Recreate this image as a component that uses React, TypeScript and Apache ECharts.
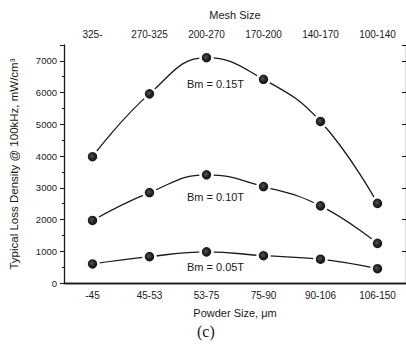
import React, { useEffect, useRef } from "react";
import * as echarts from "echarts";

const powderSizes = ["-45", "45-53", "53-75", "75-90", "90-106", "106-150"];
const meshSizes = ["325-", "270-325", "200-270", "170-200", "140-170", "100-140"];
const bm015 = [3980, 5960, 7100, 6420, 5090, 2510];
const bm010 = [1970, 2850, 3410, 3040, 2430, 1250];
const bm005 = [600, 830, 980, 860, 750, 450];
const seriesNames = ["Bm = 0.15T", "Bm = 0.10T", "Bm = 0.05T"];
const labelAnchors = [6280, 2720, 510];

const FONT = "Liberation Sans";

export default function App() {
  const ref = useRef<HTMLDivElement>(null);
  useEffect(() => {
    if (!ref.current) return;
    const chart = echarts.init(ref.current, null, { renderer: "svg" });
    const datasets = [bm015, bm010, bm005];
    const series = datasets.map((d, i) => ({
      type: "line",
      name: seriesNames[i],
      data: d,
      smooth: 0.45,
      showSymbol: true,
      symbol: "circle",
      symbolSize: 12,
      lineStyle: { color: "#1a1a1a", width: 1.3 },
      itemStyle: {
        color: {
          type: "radial",
          x: 0.45,
          y: 0.45,
          r: 0.5,
          colorStops: [
            { offset: 0, color: "#555" },
            { offset: 0.5, color: "#222" },
            { offset: 1, color: "#111" },
          ],
        },
        borderColor: "#fff",
        borderWidth: 2.5,
      },
      markPoint: {
        symbol: "circle",
        symbolSize: 0,
        data: [
          {
            coord: ["53-75", labelAnchors[i]],
            label: {
              show: true,
              formatter: seriesNames[i],
              offset: [9, 0],
              color: "#1a1a1a",
              fontFamily: FONT,
              fontSize: 11,
            },
          },
        ],
      },
    }));
    chart.setOption({
      animation: false,
      backgroundColor: "#fff",
      grid: { left: 62, right: -3, top: 45, bottom: 61 },
      xAxis: [
        {
          type: "category",
          data: powderSizes,
          position: "bottom",
          boundaryGap: true,
          name: "Powder Size, μm",
          nameLocation: "middle",
          nameGap: 24,
          nameTextStyle: { color: "#1a1a1a", fontFamily: FONT, fontSize: 11 },
          axisLine: { lineStyle: { color: "#1a1a1a", width: 1.3 } },
          axisTick: { alignWithLabel: true, inside: false, length: 4, lineStyle: { color: "#1a1a1a" } },
          axisLabel: { color: "#1a1a1a", fontFamily: FONT, fontSize: 10, margin: 7 },
          splitLine: { show: false },
        },
        {
          type: "category",
          data: meshSizes,
          position: "top",
          boundaryGap: true,
          name: "Mesh Size",
          nameLocation: "middle",
          nameGap: 25,
          nameTextStyle: { color: "#1a1a1a", fontFamily: FONT, fontSize: 11 },
          axisLine: { lineStyle: { color: "#1a1a1a", width: 1.3 } },
          axisTick: { alignWithLabel: true, inside: true, length: 4, lineStyle: { color: "#1a1a1a" } },
          axisLabel: { color: "#1a1a1a", fontFamily: FONT, fontSize: 10, margin: 6 },
          splitLine: { show: false },
        },
      ],
      yAxis: [
        {
          type: "value",
          min: 0,
          max: 7500,
          interval: 1000,
          position: "left",
          name: "Typical Loss Density @ 100kHz, mW/cm³",
          nameLocation: "middle",
          nameGap: 44,
          nameTextStyle: { color: "#1a1a1a", fontFamily: FONT, fontSize: 11.5 },
          axisLine: { show: true, lineStyle: { color: "#1a1a1a", width: 1.3 } },
          axisTick: { show: true, inside: false, length: 4, lineStyle: { color: "#1a1a1a" } },
          minorTick: { show: true, splitNumber: 2, length: 2, lineStyle: { color: "#1a1a1a" } },
          axisLabel: {
            color: "#1a1a1a",
            fontFamily: FONT,
            fontSize: 9.5,
            margin: 7,
            showMaxLabel: false,
            formatter: (v: number) => String(v),
          },
          splitLine: { show: false },
        },
        {
          type: "value",
          min: 0,
          max: 7500,
          interval: 1000,
          position: "right",
          axisLine: { show: true, lineStyle: { color: "#1a1a1a", width: 1.3 } },
          axisTick: { show: true, inside: true, length: 4, lineStyle: { color: "#1a1a1a" } },
          axisLabel: { show: false },
          splitLine: { show: false },
        },
      ],
      series,
      graphic: [
        {
          type: "text",
          left: 197,
          top: 323,
          style: { text: "(c)", font: "16px 'Liberation Serif'", fill: "#1a1a1a" },
        },
      ],
    });
    return () => chart.dispose();
  }, []);
  return (
    <div
      ref={ref}
      style={{ position: "fixed", left: 0, top: 0, width: 406, height: 344 }}
    />
  );
}
